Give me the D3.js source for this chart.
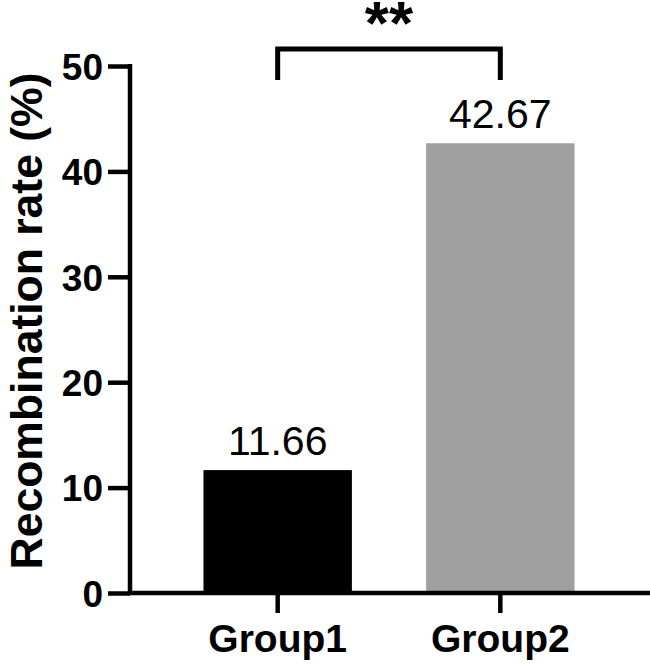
<!DOCTYPE html>
<html><head><meta charset="utf-8">
<script src="https://cdn.jsdelivr.net/npm/d3@7"></script>
<style>html,body{margin:0;padding:0;background:#fff;}svg{display:block;}</style>
</head><body>
<script>
const categories = ["Group1", "Group2"];
const values = [11.66, 42.67];
const barColors = ["#000000", "#a0a0a0"];
const yTicks = [0, 10, 20, 30, 40, 50];
const yTitle = "Recombination rate (%)";
const sigLabel = "**";

const W = 650, H = 665;
const FONT = "Arial, 'Liberation Sans', Helvetica, sans-serif";

const svg = d3.select("body").append("svg").attr("width", W).attr("height", H);

const y = d3.scaleLinear().domain([0, 50]).range([593, 66]);
const x = d3.scaleBand().domain(categories).range([130, 648]).paddingInner(1/3).paddingOuter(0.33);

// bars
svg.selectAll("rect.bar").data(categories).join("rect")
  .attr("class", "bar")
  .attr("x", d => x(d))
  .attr("width", x.bandwidth())
  .attr("y", (d, i) => y(values[i]))
  .attr("height", (d, i) => y(0) - y(values[i]))
  .attr("fill", (d, i) => barColors[i]);

// value labels
svg.selectAll("text.val").data(categories).join("text")
  .attr("class", "val")
  .attr("x", d => x(d) + x.bandwidth()/2)
  .attr("y", (d, i) => y(values[i]) - 15)
  .attr("text-anchor", "middle")
  .attr("font-family", FONT).attr("font-size", 41)
  .text((d, i) => values[i].toFixed(2));

// y axis
const yAxis = svg.append("g").attr("transform", "translate(130,0)")
  .call(d3.axisLeft(y).tickValues(yTicks).tickSize(22).tickPadding(5).tickSizeOuter(0));
yAxis.select(".domain").attr("stroke", "#000").attr("stroke-width", 4.5).attr("d", `M0,${y(50)-2}V${y(0)}`);
yAxis.selectAll(".tick line").attr("stroke", "#000").attr("stroke-width", 4.5);
yAxis.selectAll(".tick text")
  .attr("font-family", FONT).attr("font-size", 37).attr("font-weight", "bold").attr("fill", "#000")
  .attr("dy", "0.36em");

// x axis
const xAxis = svg.append("g").attr("transform", `translate(0,${y(0)})`)
  .call(d3.axisBottom(x).tickSize(20).tickPadding(11).tickSizeOuter(0));
xAxis.select(".domain").attr("stroke", "#000").attr("stroke-width", 4.5).attr("d", `M128,0H650`);
xAxis.selectAll(".tick line").attr("stroke", "#000").attr("stroke-width", 4.5);
xAxis.selectAll(".tick text")
  .attr("font-family", FONT).attr("font-size", 39).attr("font-weight", "bold").attr("fill", "#000")
  .attr("dy", "0.71em");

// y title
svg.append("text")
  .attr("transform", `translate(42,321) rotate(-90)`)
  .attr("text-anchor", "middle")
  .attr("font-family", FONT).attr("font-size", 44.5).attr("font-weight", "bold")
  .text(yTitle);

// significance bracket
const cx1 = x(categories[0]) + x.bandwidth()/2, cx2 = x(categories[1]) + x.bandwidth()/2;
svg.append("path")
  .attr("d", `M${cx1},80V49H${cx2}V80`)
  .attr("fill", "none").attr("stroke", "#000").attr("stroke-width", 5);
svg.append("text")
  .attr("x", (cx1+cx2)/2).attr("y", 44)
  .attr("text-anchor", "middle")
  .attr("font-family", FONT).attr("font-size", 62).attr("font-weight", "bold")
  .text(sigLabel);
</script>
</body></html>
